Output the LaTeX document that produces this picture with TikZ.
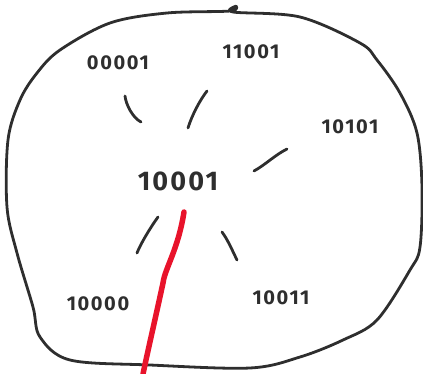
\documentclass[tikz,border=0pt]{standalone}
\usepackage{fontspec}
\setmainfont{Fira Sans}
\definecolor{ink}{HTML}{2E2E2E}
\definecolor{redink}{HTML}{E8132B}
\tikzset{
  pen/.style={draw=ink, line width=2.8pt, line cap=round, line join=round},
  redpen/.style={draw=redink, line width=5.5pt, line cap=round, line join=round},
  lbl/.style={text=ink, inner sep=0pt, font=\bfseries\fontsize{20}{20}\selectfont\addfontfeatures{LetterSpace=8}},
  biglbl/.style={text=ink, inner sep=0pt, font=\bfseries\fontsize{27}{27}\selectfont\addfontfeatures{LetterSpace=8}}
}
\begin{document}
\begin{tikzpicture}[x=1pt,y=-1pt]
\useasboundingbox (0,0) rectangle (423,374);
% blob outline
\draw[pen] plot[smooth cycle, tension=0.55] coordinates {
  (110,23) (167,13) (230,11) (236,6) (233,12) (300,17) (360,43) (377,60) (400,93)
  (417,133) (422,187) (420,247) (410,270) (377,320) (343,340) (300,357)
  (250,368) (150,365) (70,360) (40,337) (33,307) (17,253) (7,207) (8,140)
  (20,100) (37,73) (60,50)};
% labels
\node[biglbl] (c) at (178,181) {10001};
\node[lbl] (n1) at (118,63) {00001};
\node[lbl] (n2) at (251,52) {11001};
\node[lbl] (n3) at (350,127) {10101};
\node[lbl] (n4) at (98,304) {10000};
\node[lbl] (n5) at (281,298) {10011};
% stroke end points
\coordinate (a1) at (125,96);  \coordinate (b1) at (141,122);
\coordinate (a2) at (207,91);  \coordinate (b2) at (188,128);
\coordinate (a3) at (287,149); \coordinate (b3) at (254,171);
\coordinate (a4) at (158,217); \coordinate (b4) at (137,253);
\coordinate (a5) at (222,232); \coordinate (b5) at (237,260);
\coordinate (r1) at (184,212); \coordinate (r2) at (143,374);
\draw[pen] (a1) .. controls (126,105) and (133,118) .. (b1);
\draw[pen] (a2) .. controls (200,100) and (192,115) .. (b2);
\draw[pen] (a3) .. controls (275,155) and (265,165) .. (b3);
\draw[pen] (a4) .. controls (150,228) and (140,245) .. (b4);
\draw[pen] (a5) .. controls (228,240) and (233,252) .. (b5);
\draw[redpen] (r1) .. controls (178,250) and (165,268) .. (163,283) .. controls (155,320) and (148,350) .. (r2);
\end{tikzpicture}
\end{document}
